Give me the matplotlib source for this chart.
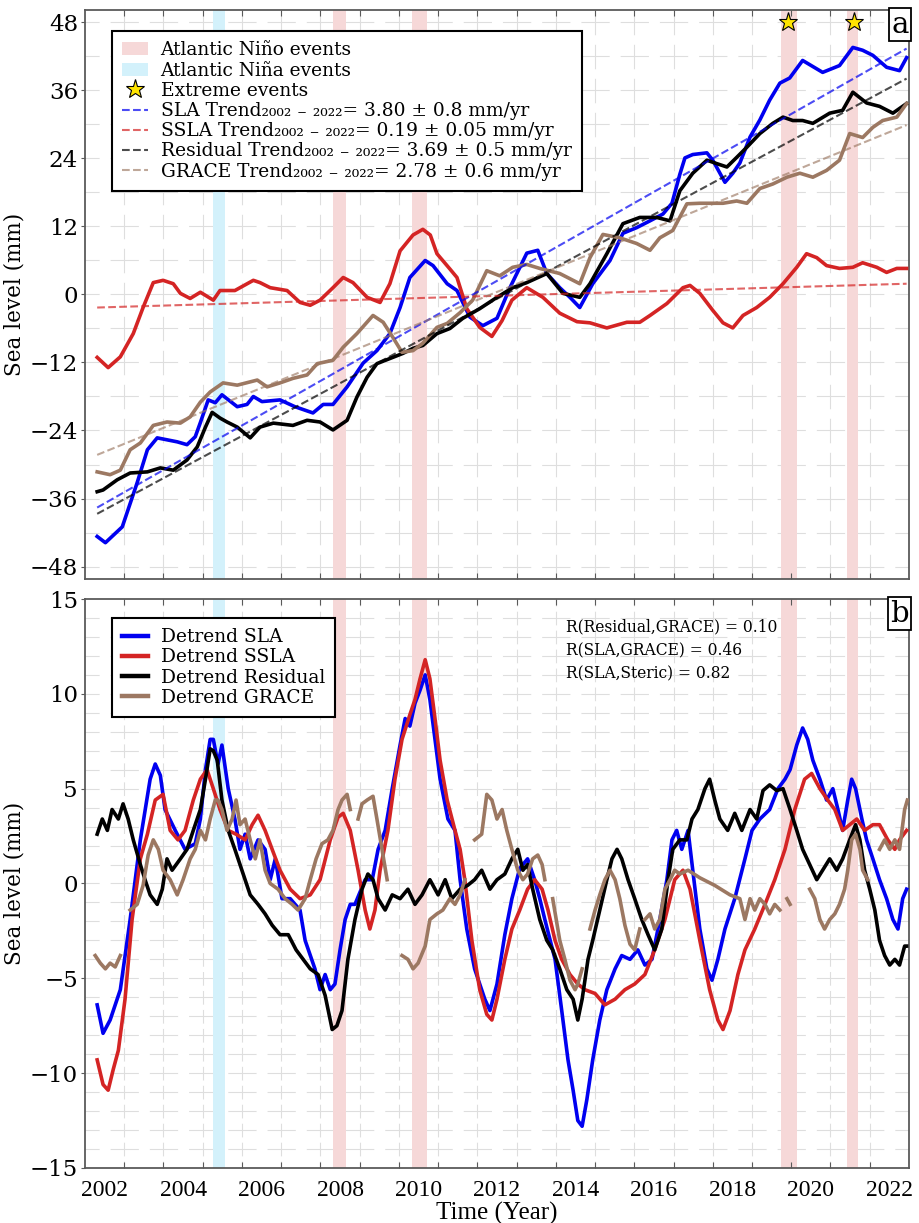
import numpy as np
import matplotlib
matplotlib.use("Agg")
import matplotlib.pyplot as plt
from matplotlib.patches import Patch
from matplotlib.lines import Line2D

plt.rcParams["font.family"] = ["DejaVu Serif", "DejaVu Sans"]

# ---------------- data (decimal year, mm) ----------------
# panel a : sea level series
sla_pts = [(2001.81, -42.7), (2002.02, -43.8), (2002.45, -41), (2002.83, -33.2), (2003.09, -27.4),
           (2003.34, -25.3), (2003.85, -26), (2004.10, -26.5), (2004.31, -25.1), (2004.44, -22.6),
           (2004.64, -18.6), (2004.82, -19.1), (2004.99, -17.7), (2005.38, -19.8), (2005.63, -19.4),
           (2005.79, -18), (2006.01, -18.9), (2006.47, -18.6), (2006.85, -19.8), (2007.31, -20.9),
           (2007.57, -19.4), (2007.82, -19.4), (2008.18, -16.3), (2008.59, -12.1), (2008.94, -9.9),
           (2009.27, -6.9), (2009.53, -2.3), (2009.78, 3), (2010.17, 6), (2010.37, 5.1),
           (2010.73, 1.9), (2010.98, 0.7), (2011.31, -4), (2011.64, -5.5), (2012.00, -4.2),
           (2012.33, 1.2), (2012.76, 7.3), (2013.04, 7.8), (2013.27, 3.7), (2013.60, 1.2),
           (2013.86, -0.5), (2014.11, -2.3), (2014.44, 1.9), (2014.88, 6), (2015.21, 10.8),
           (2015.56, 11.8), (2015.90, 13), (2016.23, 14.2), (2016.46, 16.1), (2016.66, 21.2),
           (2016.79, 24.1), (2016.99, 24.7), (2017.35, 25), (2017.50, 23.7), (2017.81, 19.8),
           (2018.01, 21.4), (2018.19, 23.2), (2018.45, 27.8), (2018.70, 30.8), (2018.95, 34.3),
           (2019.21, 37.3), (2019.46, 38.2), (2019.79, 41.3), (2020.30, 39.2), (2020.73, 40.4),
           (2021.07, 43.6), (2021.32, 43.1), (2021.58, 42.2), (2021.93, 40.1), (2022.26, 39.5),
           (2022.44, 41.8)]

ssla_pts = [(2001.81, -11.1), (2002.09, -12.9), (2002.40, -11), (2002.73, -6.9), (2002.98, -2.3),
            (2003.24, 2.1), (2003.49, 2.5), (2003.75, 1.9), (2003.93, 0.2), (2004.18, -0.7),
            (2004.44, 0.4), (2004.77, -1), (2004.94, 0.7), (2005.32, 0.7), (2005.79, 2.5),
            (2005.96, 2.1), (2006.22, 1.2), (2006.65, 0.7), (2006.98, -1.4), (2007.24, -1.9),
            (2007.49, -1), (2007.82, 1.2), (2008.08, 3), (2008.33, 2.1), (2008.69, -0.5),
            (2009.02, -1.4), (2009.27, 1.9), (2009.53, 7.7), (2009.86, 10.5), (2010.11, 11.5),
            (2010.30, 10.5), (2010.47, 7.2), (2010.80, 4.5), (2010.98, 3), (2011.23, -2.5),
            (2011.56, -5.8), (2011.87, -7.4), (2012.13, -4.6), (2012.38, -1), (2012.76, 1.2),
            (2013.17, -0.5), (2013.60, -3.3), (2014.04, -4.8), (2014.37, -5), (2014.80, -5.9),
            (2015.31, -4.9), (2015.64, -4.9), (2015.90, -3.7), (2016.33, -1.6), (2016.74, 1.2),
            (2016.92, 1.6), (2017.17, 0.2), (2017.50, -2.8), (2017.76, -5), (2018.01, -5.9),
            (2018.27, -3.7), (2018.62, -2.3), (2018.95, -0.5), (2019.29, 1.9), (2019.64, 4.8),
            (2019.89, 7.2), (2020.15, 6.5), (2020.40, 5.1), (2020.73, 4.6), (2021.07, 4.8),
            (2021.32, 5.6), (2021.68, 4.8), (2021.93, 3.9), (2022.19, 4.6), (2022.44, 4.6)]

resid_pts = [(2001.81, -34.8), (2001.96, -34.5), (2002.32, -32.7), (2002.65, -31.5), (2003.09, -31.3),
             (2003.42, -30.6), (2003.75, -31), (2004.10, -29.2), (2004.36, -26.9), (2004.57, -23.4),
             (2004.74, -20.8), (2004.94, -21.8), (2005.12, -22.5), (2005.38, -23.4), (2005.71, -25.3),
             (2005.96, -23.4), (2006.30, -22.7), (2006.80, -23.1), (2007.16, -22.2), (2007.49, -22.5),
             (2007.82, -23.9), (2008.18, -22.2), (2008.43, -18.1), (2008.69, -14.6), (2008.94, -12.2),
             (2009.27, -11.3), (2009.60, -10.4), (2009.86, -9.5), (2010.11, -9), (2010.47, -6.9),
             (2010.80, -6), (2011.13, -4.2), (2011.56, -2.5), (2012.00, -0.5), (2012.40, 1.2),
             (2012.76, 2.1), (2013.27, 3.7), (2013.68, 0.2), (2014.11, -0.5), (2014.37, 1.9),
             (2014.80, 7.2), (2015.21, 12.5), (2015.64, 13.6), (2016.07, 13.6), (2016.41, 13),
             (2016.66, 18.3), (2016.99, 21.4), (2017.35, 23.7), (2017.60, 23.1), (2017.86, 22.5),
             (2018.11, 24.2), (2018.37, 26), (2018.70, 28.4), (2019.03, 30.2), (2019.29, 31.3),
             (2019.54, 30.7), (2019.79, 30.7), (2020.05, 30.2), (2020.48, 32), (2020.81, 32.5),
             (2021.07, 35.7), (2021.42, 33.8), (2021.75, 33.2), (2022.09, 32), (2022.44, 33.7)]

grace_pts = [(2001.81, -31.3), (2002.14, -31.8), (2002.40, -31), (2002.65, -27.4), (2002.91, -26.2),
             (2003.24, -23.1), (2003.59, -22.5), (2003.93, -22.7), (2004.18, -21.6), (2004.44, -19),
             (2004.69, -17.2), (2005.02, -15.6), (2005.38, -16), (2005.89, -15.1), (2006.14, -16.3),
             (2006.47, -15.6), (2006.80, -14.8), (2007.16, -14.2), (2007.42, -12.2), (2007.82, -11.6),
             (2008.08, -9.3), (2008.43, -6.9), (2008.84, -3.7), (2009.10, -4.9), (2009.35, -7.6),
             (2009.58, -10.2), (2009.86, -9.9), (2010.11, -8.6), (2010.47, -5.8), (2010.73, -5.1),
             (2011.06, -3.2), (2011.38, -1), (2011.74, 4.2), (2012.07, 3.3), (2012.40, 4.8),
             (2012.76, 5.3), (2013.09, 4.6), (2013.60, 3.7), (2014.11, 1.9), (2014.37, 6.5),
             (2014.70, 10.6), (2015.13, 10), (2015.56, 9), (2015.90, 7.8), (2016.15, 10),
             (2016.48, 11.3), (2016.84, 16), (2017.17, 16.1), (2017.76, 16.1), (2018.11, 16.5),
             (2018.37, 16.1), (2018.70, 18.7), (2019.03, 19.5), (2019.39, 20.7), (2019.72, 21.4),
             (2020.05, 20.7), (2020.40, 21.9), (2020.73, 23.7), (2020.99, 28.4), (2021.32, 27.7),
             (2021.58, 29.5), (2021.83, 30.7), (2022.19, 31.3), (2022.44, 33.7)]

# linear trends: value at start and end of record
trend_years = [2001.81, 2022.44]
sla_trend = [-37.6, 43.4]
ssla_trend = [-2.3, 1.9]
resid_trend = [-38.7, 38.1]
grace_trend = [-28.3, 29.9]

# panel b : detrended series
dsla_pts = [(2001.81, -6.4), (2001.96, -7.9), (2002.14, -7.2), (2002.40, -5.6), (2002.65, -1.9),
            (2002.91, 2.3), (2003.16, 5.5), (2003.29, 6.3), (2003.42, 5.7), (2003.54, 3.9),
            (2003.80, 2.8), (2004.05, 1.8), (2004.31, 2.1), (2004.44, 3.4), (2004.57, 6),
            (2004.69, 7.6), (2004.77, 7.6), (2004.89, 6.3), (2004.99, 7.3), (2005.15, 5),
            (2005.32, 3.4), (2005.45, 1.8), (2005.58, 2.6), (2005.71, 1.3), (2005.91, 2.3),
            (2006.09, 1.8), (2006.22, 0.2), (2006.35, 1.3), (2006.52, -0.8), (2006.73, -0.8),
            (2006.98, -1.4), (2007.11, -3), (2007.36, -4.5), (2007.49, -5.6), (2007.62, -4.8),
            (2007.75, -5.6), (2007.87, -5.3), (2008.00, -3.5), (2008.13, -1.9), (2008.26, -1.1),
            (2008.38, -1.1), (2008.64, 0.2), (2008.82, 0.2), (2008.97, 1.8), (2009.15, 2.8),
            (2009.33, 5), (2009.53, 7.3), (2009.66, 8.7), (2009.78, 8.3), (2009.91, 9.5),
            (2010.04, 10.2), (2010.17, 11), (2010.29, 9.7), (2010.42, 7.6), (2010.55, 5.5),
            (2010.75, 3.4), (2010.93, 2.8), (2011.06, 0.2), (2011.23, -2.4), (2011.43, -4.5),
            (2011.69, -6.1), (2011.82, -6.7), (2012.00, -5.3), (2012.20, -2.7), (2012.38, -0.8),
            (2012.58, 0.8), (2012.78, 1.3), (2012.96, 0.2), (2013.09, -0.8), (2013.22, -1.9),
            (2013.48, -4), (2013.65, -6.7), (2013.81, -9.3), (2013.94, -10.9), (2014.06, -12.5),
            (2014.17, -12.8), (2014.29, -11.4), (2014.44, -9.3), (2014.62, -7.2), (2014.80, -5.6),
            (2015.01, -4.5), (2015.18, -3.8), (2015.39, -4), (2015.59, -3.5), (2015.77, -4.3),
            (2015.95, -4), (2016.15, -1.9), (2016.33, 0.2), (2016.46, 2.3), (2016.58, 2.8),
            (2016.71, 1.8), (2016.87, 2.8), (2016.99, 0.7), (2017.17, -2.4), (2017.35, -4.5),
            (2017.48, -5.1), (2017.63, -4), (2017.81, -2.4), (2018.06, -0.8), (2018.32, 1.3),
            (2018.50, 2.8), (2018.70, 3.4), (2018.95, 3.9), (2019.16, 5), (2019.34, 5.5),
            (2019.47, 6), (2019.64, 7.3), (2019.79, 8.2), (2019.92, 7.6), (2020.05, 6.5),
            (2020.23, 5.5), (2020.40, 4.4), (2020.56, 5), (2020.69, 3.9), (2020.81, 2.8),
            (2020.94, 4.4), (2021.04, 5.5), (2021.14, 5), (2021.30, 3.4), (2021.42, 2.3),
            (2021.58, 1.3), (2021.75, 0.2), (2021.93, -0.8), (2022.09, -1.9), (2022.22, -2.4),
            (2022.34, -0.8), (2022.44, -0.3)]

dssla_pts = [(2001.81, -9.3), (2001.96, -10.6), (2002.09, -10.9), (2002.22, -9.8), (2002.35, -8.8),
             (2002.52, -6.1), (2002.70, -1.9), (2002.91, 1.3), (2003.09, 2.6), (2003.29, 4.4),
             (2003.49, 4.7), (2003.67, 2.8), (2003.87, 2.3), (2004.05, 2.8), (2004.26, 4.4),
             (2004.44, 5.5), (2004.61, 6), (2004.77, 5), (2004.94, 3.9), (2005.15, 2.8),
             (2005.35, 2.6), (2005.58, 2.3), (2005.76, 3.1), (2005.91, 3.6), (2006.09, 2.8),
             (2006.27, 1.8), (2006.47, 0.7), (2006.73, -0.3), (2006.98, -0.8), (2007.24, -0.6),
             (2007.49, 0.2), (2007.75, 2.3), (2007.95, 3.5), (2008.08, 3.7), (2008.26, 2.8),
             (2008.46, 0.7), (2008.64, -1.4), (2008.76, -2.4), (2008.89, -1.4), (2009.02, 0.7),
             (2009.22, 2.8), (2009.40, 5.5), (2009.58, 7.6), (2009.78, 8.9), (2009.91, 9.7),
             (2010.04, 10.8), (2010.17, 11.8), (2010.29, 10.8), (2010.42, 8.7), (2010.55, 6.5),
             (2010.73, 4.4), (2010.93, 2.8), (2011.06, 1.8), (2011.18, 0.2), (2011.36, -3),
             (2011.56, -5.6), (2011.74, -6.9), (2011.87, -7.2), (2012.00, -6.1), (2012.20, -4),
             (2012.38, -2.4), (2012.58, -1.4), (2012.78, -0.3), (2012.96, 0.2), (2013.15, -0.3),
             (2013.30, -1.4), (2013.48, -3), (2013.65, -4), (2013.86, -4.8), (2014.06, -5.3),
             (2014.24, -5.6), (2014.50, -5.8), (2014.75, -6.4), (2015.01, -6.1), (2015.26, -5.6),
             (2015.51, -5.3), (2015.77, -4.8), (2016.02, -3.5), (2016.28, -1.9), (2016.53, 0.2),
             (2016.74, 0.7), (2016.92, -0.3), (2017.17, -3), (2017.42, -5.6), (2017.63, -7.2),
             (2017.76, -7.7), (2017.94, -6.7), (2018.14, -4.8), (2018.32, -3.5), (2018.57, -2.4),
             (2018.83, -1.1), (2019.08, 0.2), (2019.34, 1.8), (2019.59, 3.9), (2019.84, 5.5),
             (2020.02, 5.8), (2020.23, 5), (2020.43, 4.4), (2020.61, 3.9), (2020.81, 2.8),
             (2020.99, 3.1), (2021.17, 3.4), (2021.37, 2.8), (2021.58, 3.1), (2021.75, 3.1),
             (2021.96, 2.3), (2022.14, 1.8), (2022.26, 2.3), (2022.44, 2.8)]

dresid_pts = [(2001.81, 2.6), (2001.94, 3.4), (2002.07, 2.8), (2002.19, 3.9), (2002.35, 3.4),
              (2002.47, 4.2), (2002.60, 3.4), (2002.73, 2.3), (2002.91, 1), (2003.03, 0.2),
              (2003.16, -0.6), (2003.34, -1.1), (2003.47, -0.3), (2003.59, 1.3), (2003.72, 0.7),
              (2003.93, 1.3), (2004.10, 1.8), (2004.26, 2.8), (2004.44, 3.9), (2004.57, 5.5),
              (2004.69, 7.1), (2004.77, 7.0), (2004.87, 6.5), (2004.99, 4.4), (2005.15, 2.8),
              (2005.32, 1.8), (2005.50, 0.7), (2005.71, -0.6), (2005.91, -1.1), (2006.09, -1.6),
              (2006.27, -2.2), (2006.47, -2.7), (2006.68, -2.7), (2006.88, -3.5), (2007.06, -4),
              (2007.24, -4.5), (2007.44, -4.8), (2007.62, -5.9), (2007.80, -7.7), (2007.92, -7.5),
              (2008.05, -6.7), (2008.20, -4), (2008.38, -1.9), (2008.56, -0.3), (2008.71, 0.5),
              (2008.84, 0.2), (2008.97, -0.8), (2009.15, -1.4), (2009.33, -0.6), (2009.53, -0.8),
              (2009.73, -0.3), (2009.91, -1.1), (2010.09, -0.6), (2010.29, 0.2), (2010.50, -0.6),
              (2010.68, 0.2), (2010.85, -0.8), (2011.06, -0.3), (2011.25, -0.1), (2011.43, 0.2),
              (2011.61, 0.7), (2011.82, -0.3), (2012.00, 0.2), (2012.20, 0.5), (2012.38, 1.3),
              (2012.53, 1.8), (2012.66, 0.7), (2012.78, 1), (2012.91, -0.3), (2013.09, -1.9),
              (2013.27, -3), (2013.42, -3.5), (2013.60, -4.5), (2013.78, -5.6), (2013.94, -6.1),
              (2014.06, -7.2), (2014.17, -6.1), (2014.32, -4), (2014.44, -3), (2014.62, -1.4),
              (2014.80, 0.2), (2014.93, 1.3), (2015.06, 1.8), (2015.18, 1.3), (2015.34, 0.2),
              (2015.51, -0.8), (2015.69, -1.9), (2015.85, -2.7), (2016.02, -3.5), (2016.20, -2.4),
              (2016.36, 0.2), (2016.48, 1.8), (2016.66, 2.3), (2016.84, 2.3), (2016.97, 3.4),
              (2017.12, 3.9), (2017.30, 5), (2017.42, 5.5), (2017.55, 4.4), (2017.68, 3.4),
              (2017.88, 2.8), (2018.06, 3.7), (2018.24, 2.8), (2018.45, 3.9), (2018.62, 3.4),
              (2018.78, 4.9), (2018.95, 5.2), (2019.13, 4.9), (2019.29, 5), (2019.47, 3.9),
              (2019.64, 2.8), (2019.79, 1.8), (2019.97, 1), (2020.15, 0.2), (2020.30, 0.7),
              (2020.48, 1.3), (2020.66, 0.7), (2020.81, 1.3), (2020.99, 2.3), (2021.14, 3.1),
              (2021.25, 2.3), (2021.37, 0.7), (2021.50, -0.3), (2021.63, -1.4), (2021.75, -3),
              (2021.88, -3.8), (2022.01, -4.3), (2022.14, -4), (2022.26, -4.3), (2022.39, -3.3),
              (2022.44, -3.3)]

# GRACE has missing months: one list per continuous piece
dgrace_segments = [
    [(2001.76, -3.8), (2001.89, -4.2), (2002.02, -4.5), (2002.14, -4.2), (2002.27, -4.4), (2002.40, -3.8)],
    [(2002.65, -1.4), (2002.83, -1.1), (2002.98, -0.1), (2003.11, 1.5), (2003.24, 2.3), (2003.37, 1.8),
     (2003.49, 0.7), (2003.67, 0.2), (2003.85, -0.6), (2004.00, 0.2), (2004.18, 1.3), (2004.31, 1.8),
     (2004.44, 2.8), (2004.57, 2.3), (2004.69, 3.4), (2004.82, 4.4), (2004.89, 4.4), (2004.99, 3.9),
     (2005.12, 2.8), (2005.25, 3.4), (2005.35, 4.4), (2005.45, 3.1), (2005.58, 3.4), (2005.71, 2.3),
     (2005.84, 1.3), (2005.96, 2.3), (2006.09, 0.7), (2006.22, 0), (2006.42, -0.3), (2006.60, -0.8),
     (2006.78, -1.1), (2006.93, -1.4), (2007.11, -0.8), (2007.24, 0.2), (2007.39, 1.3), (2007.54, 2.1),
     (2007.69, 2.3), (2007.82, 2.8), (2007.95, 3.9), (2008.05, 4.4), (2008.18, 4.7), (2008.26, 3.9)],
    [(2008.46, 3.4), (2008.56, 4.2), (2008.69, 4.4), (2008.84, 4.6), (2008.94, 3.4), (2009.07, 1.8),
     (2009.20, 0.2)],
    [(2009.58, -3.8), (2009.73, -4), (2009.86, -4.5), (2009.99, -4.2), (2010.17, -3.3), (2010.29, -1.9),
     (2010.47, -1.6), (2010.62, -1.4), (2010.80, -0.8), (2010.93, -1.1), (2011.06, -0.6), (2011.18, 0.2)],
    [(2011.43, 2.3), (2011.61, 2.6), (2011.74, 4.7), (2011.87, 4.4), (2012.00, 3.4), (2012.13, 3.9),
     (2012.25, 2.8), (2012.38, 1.8), (2012.53, 0.7), (2012.66, 0.2), (2012.78, 0.5), (2012.91, 1.3),
     (2013.04, 1.5), (2013.15, 1), (2013.22, 0.2)],
    [(2013.42, -0.8), (2013.60, -3), (2013.73, -4), (2013.86, -5.1), (2013.99, -5.6), (2014.06, -5.3),
     (2014.17, -4.5)],
    [(2014.37, -2.4), (2014.50, -1.4), (2014.62, -0.6), (2014.75, 0.2), (2014.88, 0.7), (2015.01, 0.2),
     (2015.13, -0.8), (2015.26, -2.2), (2015.39, -3.2), (2015.51, -3.5), (2015.64, -2.4)],
    [(2015.77, -1.9), (2015.90, -1.6), (2016.02, -2.4), (2016.15, -1.9), (2016.28, -0.3), (2016.41, 0.2),
     (2016.53, 0.7), (2016.66, 0.5), (2016.87, 0.7), (2017.17, 0.3), (2017.55, -0.1), (2017.94, -0.6),
     (2018.19, -0.8), (2018.32, -1.9), (2018.45, -0.8), (2018.57, -1.4), (2018.70, -0.8), (2018.83, -1.1),
     (2018.95, -1.6), (2019.08, -1.1), (2019.21, -1.4)],
    [(2019.39, -0.8), (2019.47, -1.1)],
    [(2019.97, -0.3), (2020.10, -0.8), (2020.23, -1.9), (2020.35, -2.4), (2020.48, -1.9), (2020.61, -1.6),
     (2020.73, -1.1), (2020.86, -0.3), (2020.94, 0.7), (2021.04, 2.3), (2021.14, 2.6), (2021.25, 1.8),
     (2021.32, 0.7), (2021.45, 0.2)],
    [(2021.75, 1.8), (2021.88, 2.3), (2022.01, 1.8), (2022.14, 2.3), (2022.26, 1.8), (2022.39, 3.9),
     (2022.46, 4.4)],
]

# event windows and extreme events
nino_events = [(2007.82, 2008.15), (2009.83, 2010.21), (2019.23, 2019.64), (2020.91, 2021.19)]
nina_events = [(2004.77, 2005.07)]
extreme_years = [2019.41, 2021.09]
extreme_level = [48, 48]

corr_lines = ["R(Residual,GRACE) = 0.10", "R(SLA,GRACE) = 0.46", "R(SLA,Steric) = 0.82"]
year_labels = list(range(2002, 2023, 2))

# ---------------- styles ----------------
C_SLA = "#0000f0"
C_SSLA = "#d42424"
C_RES = "#000000"
C_GRACE = "#9c7862"
C_NINO = "#f6d8d8"
C_NINA = "#d3f1fb"
C_STAR = "#ffe400"
SPINE = "#5a5a5a"
GRID = "#dedede"
LEG_FS = 13.4


def xy(points):
    arr = np.array(points, dtype=float)
    return arr[:, 0], arr[:, 1]


def joined(segments):
    ts, vs = [], []
    for seg in segments:
        t, v = xy(seg)
        ts.extend(t.tolist() + [np.nan])
        vs.extend(v.tolist() + [np.nan])
    return np.array(ts), np.array(vs)


def cross_grid(ax, xs, ys, lw=0.8, frac=0.72):
    # dashed grid whose dashes are centred on the crossings
    bb = ax.get_window_extent()
    x0, x1 = ax.get_xlim()
    y0, y1 = ax.get_ylim()
    sx = bb.width / (x1 - x0)
    sy = bb.height / (y1 - y0)
    k = 72.0 / ax.figure.dpi / lw
    P = (xs[1] - xs[0]) * sx
    D = frac * P
    d = (xs[0] - x0) * sx
    p0 = (P - (d - D / 2)) % P
    for y in ys:
        ax.axhline(y, color=GRID, lw=lw, zorder=0.2,
                   linestyle=(p0 * k, (D * k, (P - D) * k)))
    Q = (ys[1] - ys[0]) * sy
    E = frac * Q
    e = (ys[0] - y0) * sy
    q0 = (Q - (e - E / 2)) % Q
    for x in xs:
        ax.axvline(x, color=GRID, lw=lw, zorder=0.2,
                   linestyle=(q0 * k, (E * k, (Q - E) * k)))


def frame(ax, yticks, ylims):
    ax.set_xlim(2001.5, 2022.5)
    ax.set_ylim(*ylims)
    ax.set_xticks(year_labels)
    ax.set_xticks(np.arange(2002.5, 2022.5, 1.0), minor=True)
    ax.set_yticks(yticks)
    ax.tick_params(axis="x", which="major", length=0, pad=9)
    ax.tick_params(axis="x", which="minor", direction="in", length=4, top=True,
                   bottom=True, color=SPINE, width=0.8)
    ax.tick_params(axis="y", which="major", direction="out", length=3, color=SPINE,
                   labelsize=16.5, pad=2)
    for s in ax.spines.values():
        s.set_color(SPINE)
        s.set_linewidth(1.3)
    for sp in nino_events:
        ax.axvspan(sp[0], sp[1], color=C_NINO, lw=0, zorder=0.5)
    for sp in nina_events:
        ax.axvspan(sp[0], sp[1], color=C_NINA, lw=0, zorder=0.5)
    ax.set_ylabel("Sea level (mm)", fontsize=15.5, labelpad=3)


def panel_tag(ax, letter):
    ax.text(0.9995, 0.999, letter, transform=ax.transAxes, ha="right", va="top",
            fontsize=21, zorder=10,
            bbox=dict(boxstyle="square,pad=0.08", fc="white", ec="black", lw=1.3))


def boxed_legend(ax, handles, labels, anchor):
    leg = ax.legend(handles, labels, loc="upper left", bbox_to_anchor=anchor,
                    borderaxespad=0, fontsize=LEG_FS, frameon=True, fancybox=False,
                    edgecolor="black", framealpha=1, handlelength=1.35, handletextpad=0.7,
                    labelspacing=0.12, borderpad=0.55)
    leg.get_frame().set_linewidth(1.5)
    leg.set_zorder(8)
    return leg


fig = plt.figure(figsize=(9.2, 12.23), dpi=100)
ax1 = fig.add_axes([0.0924, 0.5266, 0.8956, 0.4652])
ax2 = fig.add_axes([0.0924, 0.0450, 0.8956, 0.4652])

# ---------------- panel a ----------------
frame(ax1, range(-48, 49, 12), (-50.2, 50.2))
cross_grid(ax1, np.arange(2002.5, 2022.5, 1.0), np.arange(-48, 49, 6))
ax1.tick_params(axis="x", labelbottom=False)

for pts, c in [(sla_pts, C_SLA), (ssla_pts, C_SSLA), (resid_pts, C_RES), (grace_pts, C_GRACE)]:
    t, v = xy(pts)
    ax1.plot(t, v, color=c, lw=2.6, zorder=3, solid_joinstyle="round")

trend_specs = [(sla_trend, C_SLA, 0.7), (ssla_trend, C_SSLA, 0.7),
               (resid_trend, C_RES, 0.7), (grace_trend, C_GRACE, 0.65)]
for tr, c, a in trend_specs:
    ax1.plot(trend_years, tr, ls="--", color=c, alpha=a, lw=1.5, zorder=4)

ax1.plot(extreme_years, extreme_level, ls="none", marker="*", ms=14, mfc=C_STAR,
         mec="black", mew=0.8, zorder=6, clip_on=False)

sub = "\u2082\u2080\u2080\u2082 \u208b \u2082\u2080\u2082\u2082"
handles_a = [Patch(fc=C_NINO, ec="none"), Patch(fc=C_NINA, ec="none"),
             Line2D([], [], ls="none", marker="*", ms=14, mfc=C_STAR, mec="black", mew=0.8)]
handles_a += [Line2D([], [], ls="--", color=c, alpha=a, lw=1.5) for _, c, a in trend_specs]
labels_a = [
    "Atlantic Niño events",
    "Atlantic Niña events",
    "Extreme events",
    "SLA Trend" + sub + "= 3.80 ± 0.8 mm/yr",
    "SSLA Trend" + sub + "= 0.19 ± 0.05 mm/yr",
    "Residual Trend" + sub + "= 3.69 ± 0.5 mm/yr",
    "GRACE Trend" + sub + "= 2.78 ± 0.6 mm/yr",
]
boxed_legend(ax1, handles_a, labels_a, (0.033, 0.963))
panel_tag(ax1, "a")

# ---------------- panel b ----------------
frame(ax2, range(-15, 16, 5), (-15, 15))
cross_grid(ax2, np.arange(2002.5, 2022.5, 1.0), np.arange(-14, 15, 1))

for pts, c in [(dsla_pts, C_SLA), (dssla_pts, C_SSLA), (dresid_pts, C_RES)]:
    t, v = xy(pts)
    ax2.plot(t, v, color=c, lw=2.6, zorder=3, solid_joinstyle="round")
gt, gv = joined(dgrace_segments)
ax2.plot(gt, gv, color=C_GRACE, lw=2.6, zorder=3, solid_joinstyle="round")

handles_b = [Line2D([], [], color=c, lw=3.2) for c in (C_SLA, C_SSLA, C_RES, C_GRACE)]
labels_b = ["Detrend SLA", "Detrend SSLA", "Detrend Residual", "Detrend GRACE"]
boxed_legend(ax2, handles_b, labels_b, (0.033, 0.967))

for i, s in enumerate(corr_lines):
    ax2.text(0.584, 0.951 - i * 0.041, s, transform=ax2.transAxes, ha="left",
             va="center", fontsize=11.2, zorder=7)
panel_tag(ax2, "b")

for lab in ax2.get_xticklabels():
    lab.set_fontfamily("Liberation Serif")
    lab.set_fontsize(17)
ax2.set_xlabel("Time (Year)", fontfamily="Liberation Serif", fontsize=18, labelpad=0)

fig.savefig("out.png", dpi=100)
